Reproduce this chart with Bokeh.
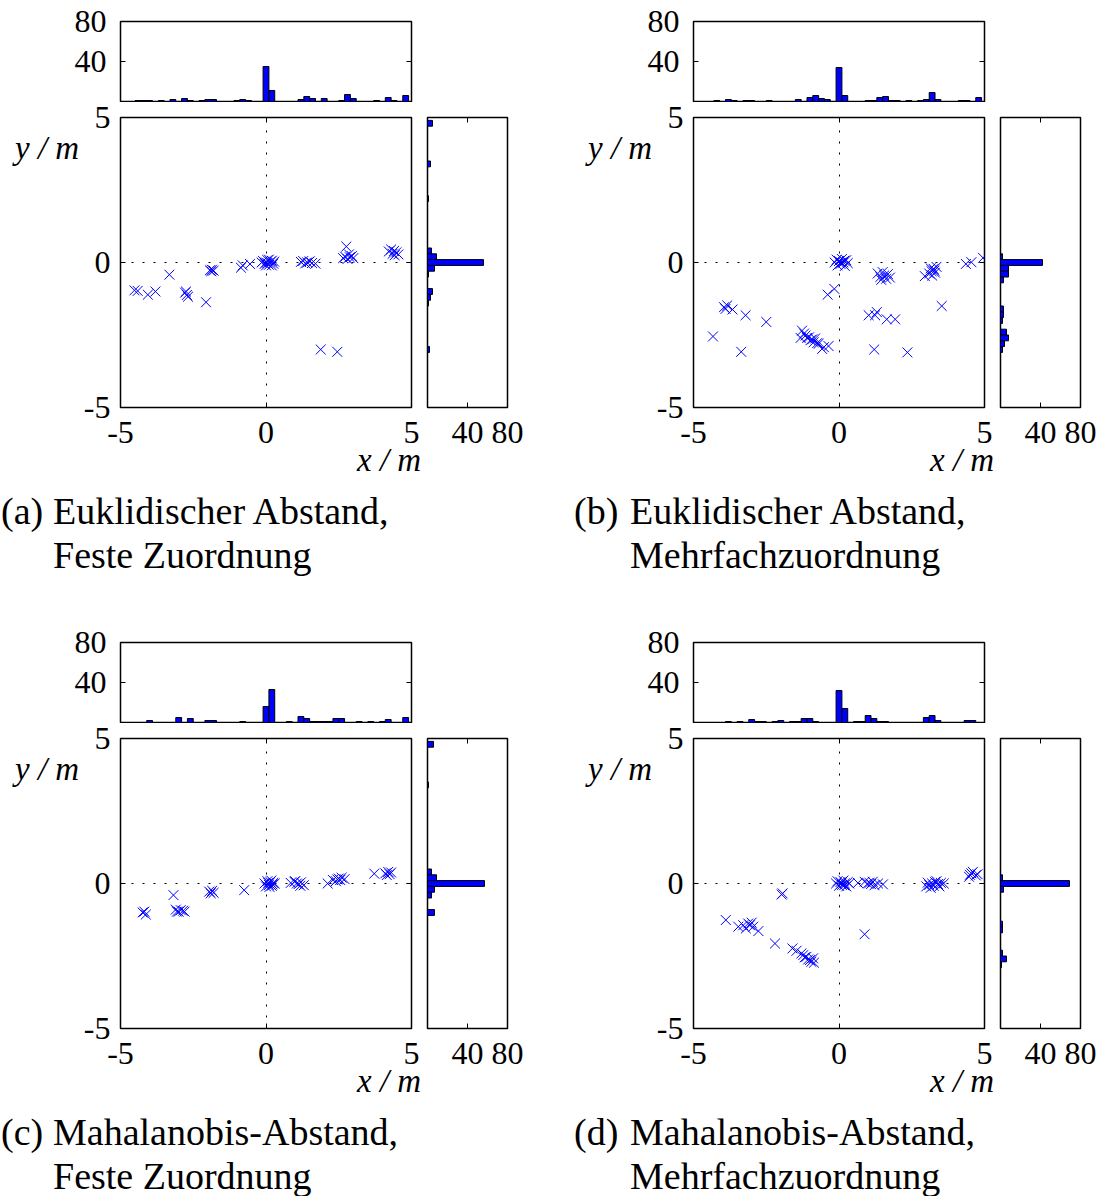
from bokeh.plotting import figure
from bokeh.models import Range1d, FixedTicker, LinearAxis, ColumnDataSource, Div
from bokeh.layouts import row, column
from bokeh.embed import file_html
from bokeh.resources import INLINE

# ---------------- data ----------------
# (a) Euklidischer Abstand, Feste Zuordnung
a_x = [-4.52, -4.41, -4.06, -3.80, -3.32, -2.78, -2.72, -2.68, -2.75, -2.06, -1.93, -1.86, -1.80, -1.88,
       -0.86, -0.80, -0.55,
       -0.15, -0.10, -0.05, 0.00, 0.05, 0.10, 0.15, 0.20, 0.25, 0.00, 0.10, 0.20, 0.05, 0.28,
       1.20, 1.28, 1.35, 1.42, 1.50, 1.58, 1.70,
       1.88, 2.45,
       2.76, 2.65, 2.72, 2.80, 2.88, 2.95, 3.00, 2.85,
       4.22, 4.30, 4.35, 4.42, 4.48, 4.55, 4.40]
a_y = [-0.96, -0.98, -1.11, -1.00, -0.42, -1.04, -1.12, -1.18, -1.00, -1.37, -0.27, -0.25, -0.28, -0.30,
       -0.18, -0.10, -0.05,
       0.00, 0.05, -0.05, 0.00, 0.08, -0.08, 0.02, 0.06, -0.04, -0.10, 0.10, -0.10, -0.02, 0.03,
       0.02, 0.05, -0.03, 0.00, 0.04, -0.02, -0.04,
       -3.00, -3.08,
       0.55, 0.15, 0.20, 0.12, 0.18, 0.22, 0.15, 0.28,
       0.38, 0.45, 0.30, 0.25, 0.35, 0.28, 0.40]
a_hx_bins = [-4.4, -4.2, -4.0, -3.6, -3.2, -2.8, -2.6, -2.2, -2.0, -1.8, -1.0, -0.8, -0.6, 0.0, 0.2,
             1.2, 1.4, 1.6, 2.0, 2.6, 2.8, 3.0, 3.8, 4.2, 4.4, 4.8]
a_hx_counts = [1, 1, 1, 1, 2, 3, 1, 1, 2, 2, 1, 2, 1, 35, 11,
               2, 5, 3, 3, 1, 7, 3, 1, 4, 1, 6]
a_hy_bins = [4.8, 3.4, 2.2, 0.4, 0.2, 0.0, -0.2, -0.4, -1.0, -1.2, -1.4, -3.0]
a_hy_counts = [5, 3, 1, 4, 9, 56, 7, 1, 5, 3, 1, 2]

# (b) Euklidischer Abstand, Mehrfachzuordnung
b_x = [-4.33, -3.95, -3.84, -3.90, -3.66, -3.21, -3.36, -2.50,
       -1.27, -1.32, -1.15, -1.10, -1.03, -0.98, -0.92, -0.87, -0.82, -0.75, -0.70, -0.58, -0.52, -0.36, -1.20,
       -0.39, -0.16,
       -0.15, -0.08, -0.05, 0.00, 0.05, 0.10, 0.15, 0.20, 0.25, 0.30, 0.08, 0.18,
       1.33, 1.42, 1.50, 1.55, 1.62, 1.68, 1.75, 1.45,
       1.02, 1.30, 1.24, 1.64, 1.93,
       1.21, 2.35,
       2.95, 3.10, 3.18, 3.25, 3.30, 3.20, 3.35, 3.28, 3.15,
       3.53,
       4.36, 4.55, 4.95]
b_y = [-2.55, -1.54, -1.48, -1.60, -1.62, -1.82, -3.08, -2.05,
       -2.35, -2.60, -2.52, -2.60, -2.58, -2.68, -2.65, -2.75, -2.62, -2.78, -2.80, -2.98, -2.92, -2.88, -2.45,
       -1.11, -0.91,
       0.00, 0.10, -0.10, 0.05, -0.05, 0.12, 0.00, -0.12, 0.08, -0.02, 0.00, 0.06,
       -0.38, -0.50, -0.33, -0.45, -0.56, -0.40, -0.52, -0.60,
       -1.82, -1.71, -1.82, -1.96, -1.96,
       -3.00, -3.10,
       -0.47, -0.38, -0.30, -0.22, -0.35, -0.45, -0.15, -0.28, -0.20,
       -1.50,
       -0.05, 0.01, 0.16]
b_hx_bins = [-4.2, -3.8, -3.6, -3.2, -3.0, -2.4, -1.4, -1.0, -0.8, -0.6, -0.4, 0.0, 0.2,
             1.0, 1.2, 1.4, 1.6, 1.8, 2.0, 2.4, 2.8, 3.0, 3.2, 3.4, 4.2, 4.4, 4.8]
b_hx_counts = [1, 2, 1, 1, 1, 1, 2, 4, 6, 3, 2, 34, 6,
               1, 1, 4, 5, 1, 1, 1, 1, 2, 9, 2, 1, 1, 4]
b_hy_bins = [0.2, 0.0, -0.2, -0.4, -0.6, -1.6, -1.8, -2.0, -2.4, -2.6, -2.8, -3.0]
b_hy_counts = [2, 42, 8, 8, 3, 3, 3, 2, 6, 8, 4, 2]

# (c) Mahalanobis-Abstand, Feste Zuordnung
c_x = [-4.24, -4.13, -4.18,
       -3.18,
       -3.10, -3.00, -2.93, -2.80, -3.06, -2.85,
       -1.95, -1.85, -1.80, -1.90,
       -0.75,
       -0.05, 0.00, 0.05, 0.10, 0.15, 0.20, 0.25, 0.30, 0.12, 0.18, 0.08, 0.22,
       0.85, 0.98, 1.06, 1.12, 1.18, 1.00, 1.20, 1.30,
       2.12, 2.30, 2.45, 2.50, 2.55, 2.70, 2.60, 2.40,
       3.72,
       4.10, 4.20, 4.25, 4.15, 4.30]
c_y = [-1.00, -1.07, -0.97,
       -0.40,
       -0.90, -0.97, -0.92, -0.97, -0.97, -0.94,
       -0.28, -0.25, -0.32, -0.34,
       -0.23,
       0.00, -0.10, 0.08, -0.05, 0.05, -0.08, 0.02, 0.00, -0.12, 0.10, 0.02, -0.03,
       0.02, 0.06, 0.00, -0.02, -0.08, 0.08, 0.04, -0.06,
       0.00, 0.12, 0.14, 0.17, 0.12, 0.15, 0.20, 0.08,
       0.34,
       0.35, 0.40, 0.32, 0.29, 0.38]
c_hx_bins = [-4.0, -3.0, -2.6, -2.0, -1.8, -0.8, 0.0, 0.2, 0.8, 1.2, 1.4, 1.6, 1.8, 2.0, 2.2,
             2.4, 2.6, 3.2, 3.6, 4.0, 4.2, 4.8]
c_hx_counts = [2, 5, 4, 2, 2, 1, 16, 33, 1, 6, 4, 1, 1, 1, 1,
               4, 4, 1, 1, 1, 3, 5]
c_hy_bins = [4.8, 3.4, 0.4, 0.2, 0.0, -0.2, -0.4, -1.0]
c_hy_counts = [6, 1, 4, 9, 57, 7, 4, 7]

# (d) Mahalanobis-Abstand, Mehrfachzuordnung
d_x = [-3.89,
       -3.46, -3.29, -3.20, -3.12, -3.06, -3.00, -2.95, -2.77,
       -2.20,
       -1.94, -1.97,
       -1.60, -1.46, -1.29, -1.23, -1.18, -1.12, -1.06, -1.00, -0.95, -0.89, -0.86,
       -0.10, -0.05, 0.00, 0.05, 0.10, 0.15, 0.20, 0.25, 0.30, 0.35, 0.08, 0.18,
       0.65, 0.88, 0.99, 1.05, 1.16, 1.34, 1.51, 1.22, 1.10,
       0.88,
       3.00, 3.10, 3.20, 3.30, 3.40, 3.50, 3.60, 3.15, 3.25, 3.35, 3.05, 3.45,
       4.47, 4.55, 4.60, 4.70, 4.76, 4.50]
d_y = [-1.26,
       -1.49, -1.44, -1.55, -1.38, -1.44, -1.35, -1.49, -1.64,
       -2.07,
       -0.34, -0.38,
       -2.24, -2.32, -2.41, -2.47, -2.55, -2.53, -2.62, -2.64, -2.70, -2.58, -2.73,
       0.00, 0.08, -0.08, 0.05, -0.05, 0.10, 0.00, -0.10, 0.05, 0.00, 0.00, -0.06,
       0.02, 0.06, 0.00, 0.02, 0.06, 0.00, -0.03, -0.06, -0.02,
       -1.75,
       -0.10, -0.05, 0.00, 0.05, -0.02, 0.02, 0.00, -0.15, -0.08, 0.08, 0.03, -0.10,
       0.23, 0.35, 0.40, 0.28, 0.32, 0.30]
d_hx_bins = [-3.8, -3.4, -3.0, -2.8, -2.6, -2.2, -2.0, -1.6, -1.4, -1.2, -1.0, -0.8, 0.0, 0.2,
             0.6, 0.8, 1.0, 1.2, 1.4, 1.6, 3.0, 3.2, 3.4, 4.4, 4.6]
d_hx_counts = [1, 1, 3, 1, 1, 1, 2, 1, 1, 4, 4, 1, 32, 14,
               1, 1, 7, 4, 1, 1, 5, 7, 2, 2, 2]
d_hy_bins = [0.2, 0.0, -0.2, -1.4, -1.6, -2.4, -2.6, -2.8]
d_hy_counts = [2, 69, 3, 2, 2, 2, 6, 1]

captions = [("(a)", "Euklidischer Abstand,", "Feste Zuordnung"),
            ("(b)", "Euklidischer Abstand,", "Mehrfachzuordnung"),
            ("(c)", "Mahalanobis-Abstand,", "Feste Zuordnung"),
            ("(d)", "Mahalanobis-Abstand,", "Mehrfachzuordnung")]
x_name = "x / m"
y_name = "y / m"

main_ticks = [-5, 0, 5]
main_tick_labels = {-5: "-5", 0: "0", 5: "5"}
count_ticks = [40, 80]
bin_width = 0.2

# ---------------- style / layout ----------------
FONT = "Liberation Serif"
TICK_FS = "32px"
CAP_FS = 38
NAME_FS = 33
BLUE = "#0000ff"

YDIV_W = 70          # column holding the "y / m" name
LB = 50              # left border of the plots (tick labels)
FW, FH = 291, 290    # main frame size
TOP_T, TOP_H = 21, 80
TOP_B = 1            # bottom border of top histogram
MAIN_T = 15          # top border of main / right histogram
BOT = 53             # bottom border of main / right histogram
RH_GAP = 8
RH_W = 80


def style_axis(ax, labels=True):
    ax.axis_line_color = None
    ax.major_tick_in = 5
    ax.major_tick_out = 0
    ax.minor_tick_line_color = None
    ax.major_tick_line_color = "black"
    ax.major_tick_line_width = 1
    if labels:
        ax.major_label_text_font = FONT
        ax.major_label_text_font_size = TICK_FS
        ax.major_label_text_color = "black"
        ax.major_label_standoff = 14
    else:
        ax.major_label_text_font_size = "1px"
        ax.major_label_text_color = None
        ax.major_label_standoff = 0


def base_fig(**kw):
    p = figure(output_backend="svg", toolbar_location=None, margin=(0, 0, 0, 0), **kw)
    p.outline_line_color = "black"
    p.outline_line_width = 1.5
    p.background_fill_color = "white"
    p.border_fill_color = None
    return p


def span(text, left, top, size, italic=False):
    st = "font-style:italic;" if italic else ""
    return (f'<span style="position:absolute;left:{left}px;top:{top}px;white-space:nowrap;'
            f'font-size:{size}px;line-height:1;{st}">{text}</span>')


def make_panel(idx, sx, sy, hxb, hxc, hyb, hyc, panel_w, panel_h):
    inner_w = panel_w - YDIV_W
    # top histogram
    top = base_fig(width=inner_w, height=TOP_T + TOP_H + TOP_B,
                   x_range=Range1d(-5, 5), y_range=Range1d(0, 80),
                   x_axis_location=None,
                   min_border_left=LB, min_border_right=inner_w - LB - FW,
                   min_border_top=TOP_T, min_border_bottom=TOP_B)
    top.grid.visible = False
    top.yaxis.ticker = FixedTicker(ticks=count_ticks)
    style_axis(top.yaxis[0])
    rax = LinearAxis(ticker=FixedTicker(ticks=count_ticks))
    style_axis(rax, labels=False)
    top.add_layout(rax, "right")
    hsrc = ColumnDataSource(dict(x=hxb, top=hxc))
    top.vbar(x="x", top="top", width=bin_width, bottom=0, source=hsrc,
             fill_color=BLUE, line_color="black", line_width=1)

    # main scatter
    main_h = MAIN_T + FH + BOT
    main = base_fig(width=LB + FW + RH_GAP, height=main_h,
                    x_range=Range1d(-5, 5), y_range=Range1d(-5, 5),
                    min_border_left=LB, min_border_right=RH_GAP,
                    min_border_top=MAIN_T, min_border_bottom=BOT)
    for ax in (main.xaxis[0], main.yaxis[0]):
        ax.ticker = FixedTicker(ticks=main_ticks)
        ax.major_label_overrides = main_tick_labels
        style_axis(ax)
    main.yaxis[0].major_label_standoff = 10
    for loc in ("right", "above"):
        ax = LinearAxis(ticker=FixedTicker(ticks=main_ticks))
        style_axis(ax, labels=False)
        main.add_layout(ax, loc)
    main.xgrid.ticker = FixedTicker(ticks=main_ticks)
    main.ygrid.ticker = FixedTicker(ticks=main_ticks)
    main.grid.grid_line_color = "black"
    main.grid.grid_line_dash = "2 9"
    main.grid.grid_line_width = 1
    ssrc = ColumnDataSource(dict(x=sx, y=sy))
    main.scatter(x="x", y="y", source=ssrc, marker="x", size=14,
                 line_color=BLUE, line_width=1)

    # right histogram
    rh_w = panel_w - YDIV_W - (LB + FW + RH_GAP)
    rh = base_fig(width=rh_w, height=main_h,
                  x_range=Range1d(0, 80), y_range=main.y_range,
                  y_axis_location=None,
                  min_border_left=RH_GAP, min_border_right=rh_w - RH_GAP - RH_W,
                  min_border_top=MAIN_T, min_border_bottom=BOT)
    rh.grid.visible = False
    rh.xaxis.ticker = FixedTicker(ticks=count_ticks)
    style_axis(rh.xaxis[0])
    ax = LinearAxis(ticker=FixedTicker(ticks=count_ticks))
    style_axis(ax, labels=False)
    rh.add_layout(ax, "above")
    vsrc = ColumnDataSource(dict(y=hyb, right=hyc))
    rh.hbar(y="y", right="right", left=0, height=bin_width, source=vsrc,
            fill_color=BLUE, line_color="black", line_width=1)

    upper_h = TOP_T + TOP_H + TOP_B + main_h
    ydiv = Div(width=YDIV_W, height=upper_h, margin=(0, 0, 0, 0),
               styles={"overflow": "visible", "z-index": "5"},
               text=(f'<div style="position:relative;width:{YDIV_W}px;height:{upper_h}px;'
                     f'font-family:\'{FONT}\';color:black;overflow:visible;">'
                     + span(y_name, 15, 132, NAME_FS, italic=True) + '</div>'))

    cap_h = panel_h - upper_h
    tag, l1, l2 = captions[idx]
    tx = 53 if idx in (0, 2) else 57
    cap = Div(width=panel_w, height=cap_h, margin=(0, 0, 0, 0),
              styles={"overflow": "visible"},
              text=(f'<div style="position:relative;width:{panel_w}px;height:{cap_h}px;'
                    f'font-family:\'{FONT}\';color:black;overflow:visible;">'
                    + span(x_name, 357, -16, NAME_FS, italic=True)
                    + span(tag, 1, 32, CAP_FS)
                    + span(l1, tx, 32, CAP_FS)
                    + span(l2, tx, 76, CAP_FS)
                    + '</div>'))

    upper = row(ydiv, column(top, row(main, rh, spacing=0), spacing=0), spacing=0)
    return column(upper, cap, spacing=0)


pa = make_panel(0, a_x, a_y, a_hx_bins, a_hx_counts, a_hy_bins, a_hy_counts, 573, 621)
pb = make_panel(1, b_x, b_y, b_hx_bins, b_hx_counts, b_hy_bins, b_hy_counts, 542, 621)
pc = make_panel(2, c_x, c_y, c_hx_bins, c_hx_counts, c_hy_bins, c_hy_counts, 573, 575)
pd = make_panel(3, d_x, d_y, d_hx_bins, d_hx_counts, d_hy_bins, d_hy_counts, 542, 575)

layout = column(row(pa, pb, spacing=0), row(pc, pd, spacing=0), spacing=0)

open("out.html", "w").write(file_html(layout, INLINE))
